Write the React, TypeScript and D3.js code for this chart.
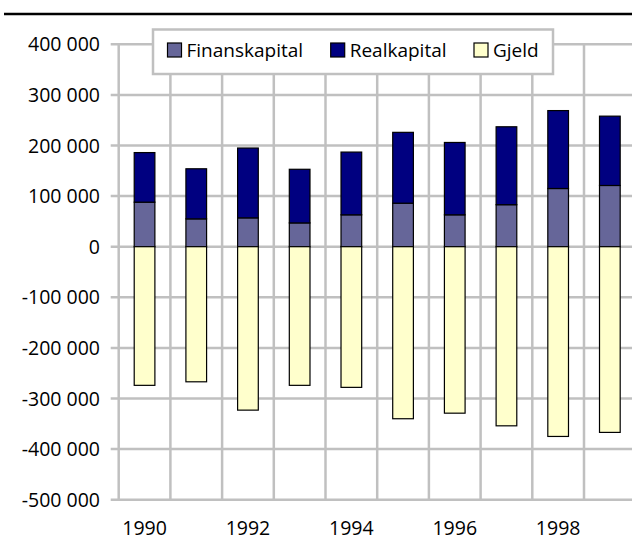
import React from "react";
import * as d3 from "d3";

const years = ["1990", "1991", "1992", "1993", "1994", "1995", "1996", "1997", "1998", "1999"];
const finanskapital = [88000, 55000, 57000, 47000, 63000, 86000, 63000, 83000, 115000, 121000];
const realkapital = [98000, 99000, 138000, 106000, 124000, 140000, 143000, 154000, 154000, 137000];
const gjeld = [-274000, -267000, -323000, -274000, -278000, -340000, -329000, -354000, -375000, -367000];
const yTicks = [400000, 300000, 200000, 100000, 0, -100000, -200000, -300000, -400000, -500000];
const xLabels = ["1990", "1992", "1994", "1996", "1998"];
const seriesNames = ["Finanskapital", "Realkapital", "Gjeld"];
const seriesColors = ["#666699", "#000080", "#FFFFCC"];

const W = 632;
const H = 541;
const left = 118.7;
const step = 51.7;
const right = left + step * years.length;
const top = 44.3;
const bottom = 499.7;
const FONT = "'Open Sans', 'DejaVu Sans', sans-serif";

function fmt(v: number): string {
  const s = Math.abs(v).toString();
  const withSpace = s.replace(/\B(?=(\d{3})+(?!\d))/g, " ");
  return (v < 0 ? "-" : "") + withSpace;
}

export default function App() {
  const x = d3.scaleBand<string>().domain(years).range([left, right]).paddingInner(0.6).paddingOuter(0.3);
  const y = d3.scaleLinear().domain([-500000, 400000]).range([bottom, top]);
  const bw = x.bandwidth();
  const grid = "#c0c0c0";
  const vLines = d3.range(years.length + 1).map((i) => left + i * step);

  return (
    <div style={{ position: "absolute", left: 0, top: 0 }}>
      <svg width={W} height={H} style={{ display: "block", background: "#fff" }}>
        <line x1={4} x2={W} y1={14} y2={14} stroke="#000" strokeWidth={2.6} />
        {yTicks.map((t) => (
          <line key={"h" + t} x1={left - 8} x2={W} y1={y(t)} y2={y(t)} stroke={grid} strokeWidth={2.5} />
        ))}
        {vLines.map((vx, i) => (
          <line key={"v" + i} x1={vx} x2={vx} y1={top} y2={bottom} stroke={grid} strokeWidth={2.5} />
        ))}
        {yTicks.map((t) => (
          <text
            key={"yl" + t}
            x={100}
            y={y(t)}
            dy="0.36em"
            textAnchor="end"
            fontFamily={FONT}
            fontSize={19.5}
            fill="#000"
          >
            {fmt(t)}
          </text>
        ))}
        {years.map((yr, i) => (
          <g key={"b" + yr}>
            <rect
              x={x(yr)}
              y={y(finanskapital[i])}
              width={bw}
              height={y(0) - y(finanskapital[i])}
              fill={seriesColors[0]}
              stroke="#000"
              strokeWidth={1.2}
            />
            <rect
              x={x(yr)}
              y={y(finanskapital[i] + realkapital[i])}
              width={bw}
              height={y(finanskapital[i]) - y(finanskapital[i] + realkapital[i])}
              fill={seriesColors[1]}
              stroke="#000"
              strokeWidth={1.2}
            />
            <rect
              x={x(yr)}
              y={y(0)}
              width={bw}
              height={y(gjeld[i]) - y(0)}
              fill={seriesColors[2]}
              stroke="#000"
              strokeWidth={1.2}
            />
          </g>
        ))}
        {xLabels.map((yr) => (
          <text
            key={"xl" + yr}
            x={(x(yr) as number) + bw / 2}
            y={535}
            textAnchor="middle"
            fontFamily={FONT}
            fontSize={19.5}
            fill="#000"
          >
            {yr}
          </text>
        ))}
        <rect x={153} y={29.5} width={400} height={44.5} fill="#fff" stroke={grid} strokeWidth={2.5} />
        {seriesNames.map((name, i) => {
          const lx = [167.5, 330.7, 474][i];
          return (
            <g key={"lg" + name}>
              <rect x={lx} y={43} width={14} height={14} fill={seriesColors[i]} stroke="#000" strokeWidth={1.2} />
              <text x={lx + 19} y={56.5} fontFamily={FONT} fontSize={19} fill="#000">
                {name}
              </text>
            </g>
          );
        })}
      </svg>
    </div>
  );
}
